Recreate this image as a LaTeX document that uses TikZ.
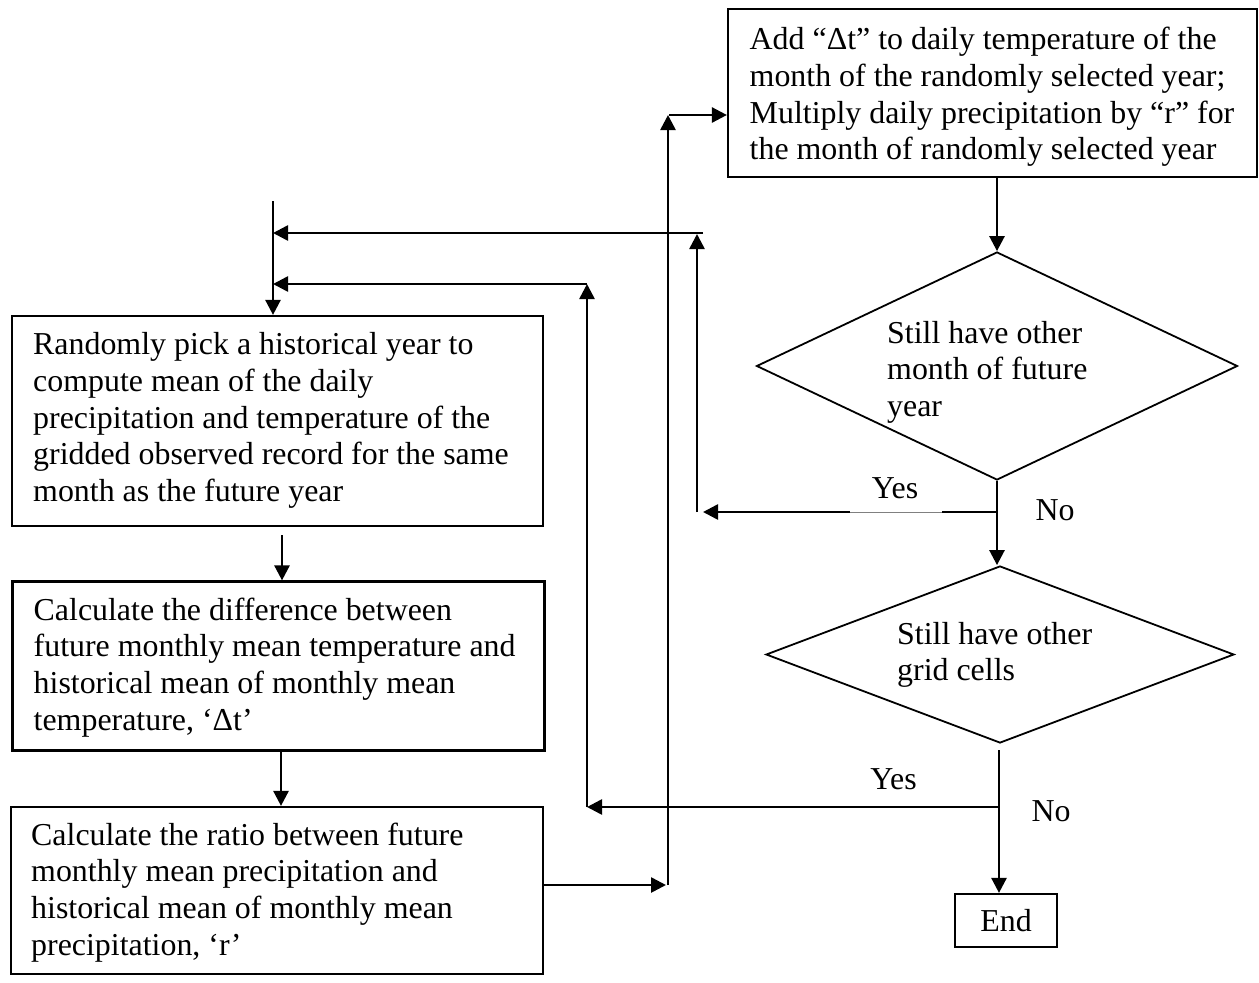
\documentclass[tikz,border=0pt]{standalone}
\usepackage{fontspec}
\setmainfont{Liberation Serif}
\usetikzlibrary{arrows.meta,shapes.geometric}
\begin{document}
\begin{tikzpicture}[x=1pt,y=-1pt,
  txt/.style={font=\fontsize{31.9}{36.6}\selectfont, align=left, inner sep=0pt},
  box/.style={draw, line width=2.2pt, rectangle, inner sep=0pt},
  dia/.style={draw, line width=1.8pt, diamond, inner sep=0pt},
  arr/.style={line width=2.6pt, -{Triangle[length=15pt,width=15pt]}},
  ln/.style={line width=2.6pt}]
\useasboundingbox (0,0) rectangle (1259,983);

% boxes
\node[box, minimum width=531, minimum height=210] (A) at (277.5,421) {};
\node[box, minimum width=532, minimum height=169] (B) at (278.5,666) {};
\node[box, minimum width=532, minimum height=167] (C) at (277,890.5) {};
\node[box, minimum width=529, minimum height=168] (D) at (992.5,93) {};
\node[box, minimum width=102, minimum height=53] (E) at (1006,920.5) {};
\node[dia, minimum width=481, minimum height=228] (Q1) at (997,366) {};
\node[dia, minimum width=468, minimum height=177] (Q2) at (1000,654.5) {};

% texts
\node[txt, anchor=west] (At) at (33,420.5) {Randomly pick a historical year to\\compute mean of the daily\\precipitation and temperature of the\\gridded observed record for the same\\month as the future year};
\node[txt, anchor=west] (Bt) at (33.5,667.4) {Calculate the difference between\\future monthly mean temperature and\\historical mean of monthly mean\\temperature, ‘Δt’};
\node[txt, anchor=west] (Ct) at (31,892.4) {Calculate the ratio between future\\monthly mean precipitation and\\historical mean of monthly mean\\precipitation, ‘r’};
\node[txt, anchor=west] (Dt) at (749.5,97) {Add “Δt” to daily temperature of the\\month of the randomly selected year;\\Multiply daily precipitation by “r” for\\the month of randomly selected year};
\node[txt, anchor=west] (Q1t) at (887,372) {Still have other\\month of future\\year};
\node[txt, anchor=west] (Q2t) at (897,655) {Still have other\\grid cells};
\node[txt] (Et) at (E.center) {End};
\node[txt] (yes1) at (895,488) {Yes};
\node[txt] (no1) at (1055,510) {No};
\node[txt] (yes2) at (893.5,779) {Yes};
\node[txt] (no2) at (1051,811) {No};

% coordinates
\coordinate (top) at (273,201);
\coordinate (a1) at (282,535);
\coordinate (b1) at (281,750);
\coordinate (c1) at (668,885);
\coordinate (c2) at (668,115);
\coordinate (j1) at (997,512);
\coordinate (k1) at (697,512);
\coordinate (k1t) at (697,234);
\coordinate (h1) at (703,233);
\coordinate (e0) at (999,750);
\coordinate (j2) at (999,807);
\coordinate (k2) at (587,807);
\coordinate (k2t) at (587,284);

% connectors
\draw[arr] (top) -- (top |- A.north);
\draw[arr] (a1) -- (a1 |- B.north);
\draw[arr] (b1 |- B.south) -- (b1 |- C.north);
\draw[arr] (C.east |- c1) -- ([xshift=-2pt]c1);
\draw[arr] (c1) -- (c2);
\draw[arr] ([xshift=1pt]c2) -- (c2 -| D.west);
\draw[arr] (D.south -| Q1.north) -- (Q1.north);
\draw[arr] (Q1.south) -- (Q1.south |- Q2.north);
\draw[arr] (j1) -- ([xshift=6pt]k1);
\draw[white, line width=3pt] (850,512) -- (942,512);
\draw[line width=0.6pt, gray] (850,512) -- (942,512);
\draw[arr] (k1) -- (k1t);
\draw[arr] (h1) -- (h1 -| top);
\draw[arr] (e0) -- (e0 |- E.north);
\draw[arr] (j2) -- (k2);
\draw[arr] (k2) -- (k2t);
\draw[arr] (k2t) -- (k2t -| top);
\end{tikzpicture}
\end{document}
